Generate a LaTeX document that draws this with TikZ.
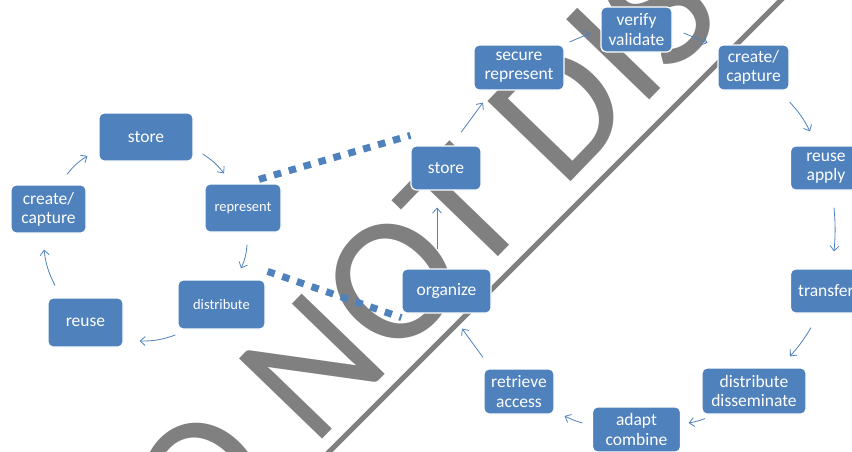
\documentclass[tikz,border=0pt]{standalone}
\usepackage{fontspec}
\setmainfont{Carlito}
\usetikzlibrary{arrows.meta, calc}
\definecolor{boxblue}{HTML}{4F81BD}
\definecolor{markgray}{HTML}{808080}
\tikzset{
  stage/.style={rectangle, rounded corners=5, draw=white, line width=1.2,
    fill=boxblue, text=white, align=center, inner sep=0,
    font=\fontsize{17.5}{19.3}\selectfont},
  smalltext/.style={font=\fontsize{14.5}{16}\selectfont},
  flow/.style={draw=boxblue, line width=0.8, -{Straight Barb[length=5,width=9]}},
  link/.style={draw=boxblue, line width=7, dash pattern=on 7.5 off 8}
}
\begin{document}
\begin{tikzpicture}[x=1pt, y=-1pt]
    \useasboundingbox (0,0) rectangle (852,451);
    \clip (0,0) rectangle (852,451);

    % watermark
    \node[rotate=46, anchor=base west, inner sep=0, text=markgray,
        font=\fontsize{180}{180}\selectfont] (mark) at (125,643) {DO NOT DISTRIBUTE};
    \draw[markgray, line width=5] (300,481) -- (800,-19);

    % first cycle
    \node[stage, minimum width=94, minimum height=48] (st1) at (146,137) {store};
    \node[stage, minimum width=75, minimum height=48] (cc1) at (48.5,209) {create/\\capture};
    \node[stage, smalltext, minimum width=76, minimum height=48] (rp1) at (243,208) {represent};
    \node[stage, smalltext, minimum width=87, minimum height=49] (ds1) at (221.5,304.5) {distribute};
    \node[stage, minimum width=75, minimum height=49] (ru1) at (85.5,322.5) {reuse};

    % second cycle
    \node[stage, minimum width=70, minimum height=44] (st2) at (446,168) {store};
    \node[stage, minimum width=89, minimum height=44] (or2) at (446.5,291) {organize};
    \node[stage, minimum width=90, minimum height=45] (sc2) at (519,67.5) {secure\\represent};
    \node[stage, minimum width=71, minimum height=45] (vf2) at (636.5,29.5) {verify\\validate};
    \node[stage, minimum width=71, minimum height=45] (cr2) at (753.5,67.5) {create/\\capture};
    \node[stage, minimum width=71, minimum height=44] (ra2) at (826,168) {reuse\\apply};
    \node[stage, minimum width=71, minimum height=44] (tf2) at (826,291) {transfer};
    \node[stage, minimum width=104, minimum height=46] (dd2) at (754,391) {distribute\\disseminate};
    \node[stage, minimum width=88, minimum height=45] (ad2) at (636.5,429.5) {adapt\\combine};
    \node[stage, minimum width=70, minimum height=45] (rt2) at (519,391.5) {retrieve\\access};

    % links between the cycles
    \draw[link] ($(rp1.north)+(16,-4)$) -- ($(st2.north west)+(0,-10)$);
    \draw[link] ($(ds1.north east)+(2,-8)$) -- ($(or2.south west)+(0,4)$);

    \draw[flow] ($(cc1.north)+(18.5,-10)$) to[bend left=10] ($(st1.west)+(-11,19)$);
    \draw[flow] ($(st1.east)+(9,17)$) to[bend left=10] ($(rp1.north)+(-19,-10)$);
    \draw[flow] ($(rp1.south)+(4,12)$) to[bend left=10] ($(ds1.north)+(19.5,-11)$);
    \draw[flow] ($(ds1.west)+(-2,30.5)$) to[bend left=10] ($(ru1.east)+(16,18.5)$);
    \draw[flow] ($(ru1.north)+(-30.5,-12)$) to[bend left=10] ($(cc1.south)+(-4.5,16)$);

    \draw[flow] ($(or2.north)+(-9.5,-19)$) -- ($(st2.south)+(-9,17)$);
    \draw[flow] ($(st2.north)+(15,-13)$) -- ($(sc2.south)+(-36,12)$);
    \draw[flow] ($(sc2.east)+(5,-25.5)$) -- ($(vf2.west)+(-10,3.5)$);
    \draw[flow] ($(vf2.east)+(11,3.5)$) -- ($(cr2.west)+(-10,-24.5)$);
    \draw[flow] ($(cr2.east)+(0,34.5)$) to[bend left=8] ($(ra2.north)+(-16,-14)$);
    \draw[flow] ($(ra2.south)+(8,17)$) to[bend left=5] ($(tf2.north)+(8,-17)$);
    \draw[flow] ($(tf2.south)+(-15,14)$) to[bend left=5] ($(dd2.north)+(36,-11)$);
    \draw[flow] ($(dd2.south)+(-49,4)$) to[bend left=5] ($(ad2.east)+(7.5,-6.5)$);
    \draw[flow] ($(ad2.west)+(-9.5,-6.5)$) to[bend left=5] ($(rt2.east)+(10,24.5)$);
    \draw[flow] ($(rt2.north)+(-36,-11)$) -- ($(or2.south)+(15.5,15)$);
\end{tikzpicture}
\end{document}
